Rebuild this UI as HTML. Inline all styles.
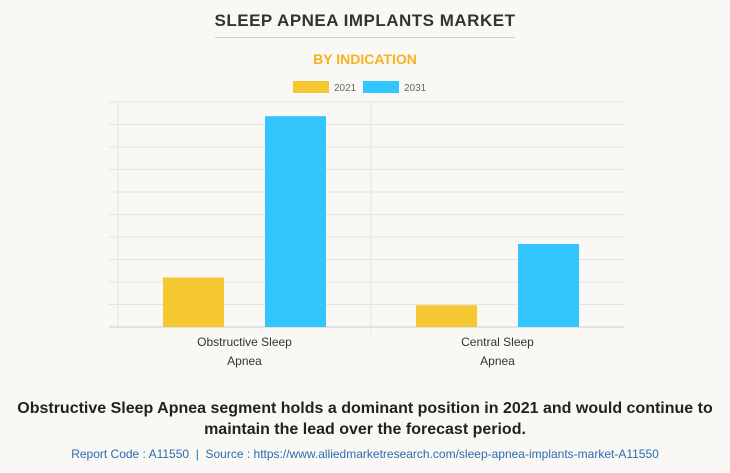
<!DOCTYPE html>
<html><head><meta charset="utf-8"><style>
body{margin:0;width:730px;height:473px;background:#f9f8f4;font-family:"Liberation Sans",sans-serif;overflow:hidden;position:relative}
.t{position:absolute;left:0;width:730px;text-align:center}
</style></head><body>
<div class="t" style="top:11px;font-size:17px;font-weight:bold;color:#333;letter-spacing:0.5px">SLEEP APNEA IMPLANTS MARKET</div>
<div style="position:absolute;left:215px;width:300px;top:37px;height:1px;background:#ccc"></div>
<div class="t" style="top:51px;font-size:14px;font-weight:bold;color:#f5b324">BY INDICATION</div>
<svg id="c" width="730" height="473" style="position:absolute;left:0;top:0"></svg>
<div class="t" style="top:398px;font-size:16px;font-weight:bold;color:#222;line-height:21px">Obstructive Sleep Apnea segment holds a dominant position in 2021 and would continue to<br>maintain the lead over the forecast period.</div>
<div class="t" style="top:447px;font-size:12px;color:#2b6cb0">Report Code : A11550 &nbsp;|&nbsp; Source : https://www.alliedmarketresearch.com/sleep-apnea-implants-market-A11550</div>
<script>
const categories=[["Obstructive Sleep","Apnea"],["Central Sleep","Apnea"]];
const series2021=[2.2,0.97];
const series2031=[9.37,3.69];
const seriesNames=["2021","2031"];
const colors=["#f5c731","#33c5fe"];
const ns="http://www.w3.org/2000/svg",svg=document.getElementById('c');
const X0=118,X1=624,Y0=327,Y1=102,MAX=10;
const y=v=>Y0-(v/MAX)*(Y0-Y1);
const cw=(X1-X0)/categories.length;
function mk(t,a){const e=document.createElementNS(ns,t);for(const k in a)e.setAttribute(k,a[k]);svg.appendChild(e);return e;}
for(let i=0;i<=MAX;i++){const g=mk('line',{x1:109,x2:X1,y1:y(i),y2:y(i),stroke:i?'#e4e4e4':'#ccc','stroke-width':1});

}
const va=mk('line',{x1:X0,x2:X0,y1:Y1,y2:Y0,stroke:'#e4e4e4'});


const dv=mk('line',{x1:X0+cw,x2:X0+cw,y1:Y1,y2:Y0+7,stroke:'#e4e4e4'});


const all=[series2021,series2031];
categories.forEach((c,i)=>{const cx=X0+cw*(i+0.5);
all.forEach((s,j)=>{const bx=cx-81.5+j*102;
const r=mk('rect',{x:bx,y:y(s[i]),width:61,height:Y0-y(s[i]),fill:colors[j]});

});
c.forEach((l,k)=>{const t=mk('text',{x:cx,y:346+k*19,'text-anchor':'middle','font-size':12,fill:'#333'});t.textContent=l;

});});
seriesNames.forEach((n,j)=>{const lx=293+j*70;
const r=mk('rect',{x:lx,y:81,width:36,height:12,fill:colors[j]});


const t=mk('text',{x:lx+41,y:91,'font-size':10,fill:'#666'});t.textContent=n;

});
</script>
</body></html>
